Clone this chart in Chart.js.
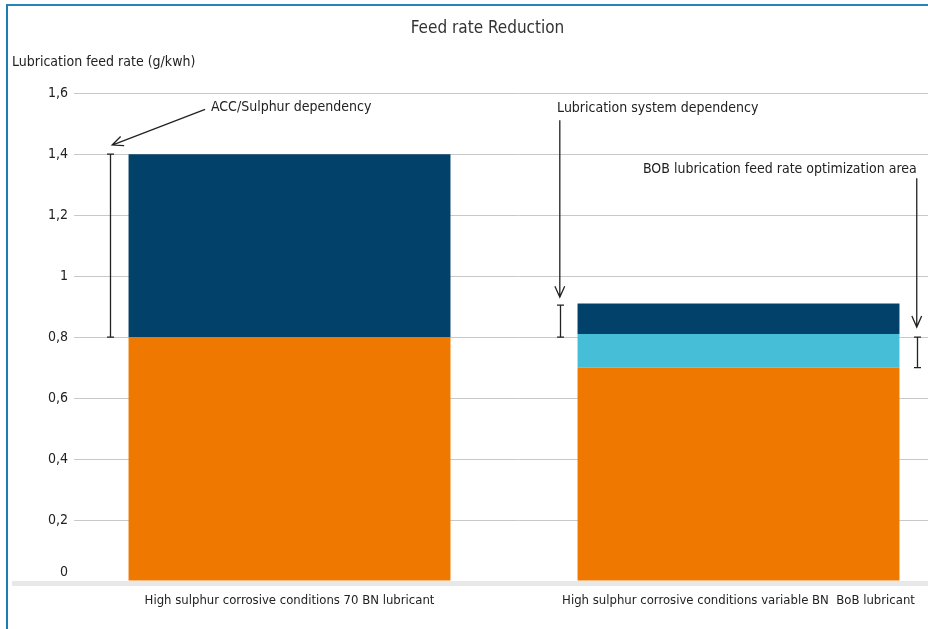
<!DOCTYPE html>
<html>
<head>
<meta charset="utf-8">
<script src="https://cdn.jsdelivr.net/npm/chart.js@4"></script>
<style>
  html, body { margin: 0; padding: 0; background: #fff; overflow: hidden; }
  #wrap { position: relative; width: 982px; height: 629px; }
  #frame { position: absolute; left: 6px; top: 4px; right: -10px; bottom: -10px;
           border-left: 2px solid #1b7db3; border-top: 2px solid #2584b8; pointer-events: none; }
</style>
</head>
<body>
<div id="wrap">
  <canvas id="c"></canvas>
  <div id="frame"></div>
</div>
<script>
// Categories and stacked segment values (g/kWh)
const categories = [
  'High sulphur corrosive conditions 70 BN lubricant',
  'High sulphur corrosive conditions variable BN  BoB lubricant'
];
const baseFeed = [0.8, 0.7];          // orange
const bobOptimisation = [0, 0.11];    // light blue
const systemDependency = [0.6, 0.1];  // dark blue

const yTicks = [0, 0.2, 0.4, 0.6, 0.8, 1, 1.2, 1.4, 1.6];

// Range brackets: [category position, low, high]
const brackets = [
  [-0.40, 0.8, 1.4],
  [0.602, 0.8, 0.905],
  [1.397, 0.7, 0.8]
];

// Callouts: text, text anchor (x,y), alignment, arrow tail and head (x,y)
const callouts = [
  { text: 'ACC/Sulphur dependency', at: [-0.175, 1.554], align: 'left',
    from: [-0.188, 1.547], to: [-0.395, 1.43] },
  { text: 'Lubrication system dependency', at: [0.596, 1.551], align: 'left',
    from: [0.602, 1.511], to: [0.602, 0.931] },
  { text: 'BOB lubrication feed rate optimization area', at: [1.397, 1.351], align: 'right',
    from: [1.397, 1.321], to: [1.397, 0.833] }
];

const FONT = '"Liberation Sans Narrow", "DejaVu Sans Condensed", "Roboto Condensed", sans-serif';
const INK = '#222';

const toSeries = arr => arr.map((v, i) => ({ x: i, y: v }));

const annotate = {
  id: 'annotate',
  beforeDraw(chart) {
    // lift the zero label clear of the base band
    const items = chart.scales.y.getLabelItems();
    items.forEach(it => {
      if (it.label === '0' && !it._lifted) {
        it.options.translation[1] -= 9;
        it._lifted = true;
      }
    });
  },
  beforeDatasetsDraw(chart) {
    const { ctx, chartArea } = chart;
    // light grey base band under the bars
    ctx.save();
    ctx.fillStyle = '#e8e8e8';
    ctx.fillRect(12, chartArea.bottom, chart.width, 5);
    ctx.restore();
  },
  afterDatasetsDraw(chart) {
    const { ctx } = chart;
    const xs = chart.scales.x, ys = chart.scales.y;
    ctx.save();
    ctx.strokeStyle = INK;
    ctx.fillStyle = INK;
    ctx.lineWidth = 1.3;
    brackets.forEach(([x, lo, hi]) => {
      const px = Math.round(xs.getPixelForValue(x)) + 0.5;
      const y1 = ys.getPixelForValue(lo), y2 = ys.getPixelForValue(hi);
      ctx.beginPath();
      ctx.moveTo(px, y1); ctx.lineTo(px, y2);
      ctx.moveTo(px - 3.5, y1); ctx.lineTo(px + 3.5, y1);
      ctx.moveTo(px - 3.5, y2); ctx.lineTo(px + 3.5, y2);
      ctx.stroke();
    });
    ctx.font = '14px ' + FONT;
    ctx.textBaseline = 'middle';
    callouts.forEach(c => {
      ctx.textAlign = c.align;
      ctx.fillText(c.text, xs.getPixelForValue(c.at[0]), ys.getPixelForValue(c.at[1]));
      const x1 = xs.getPixelForValue(c.from[0]), y1 = ys.getPixelForValue(c.from[1]);
      const x2 = xs.getPixelForValue(c.to[0]), y2 = ys.getPixelForValue(c.to[1]);
      ctx.beginPath();
      ctx.moveTo(x1, y1); ctx.lineTo(x2, y2);
      const ang = Math.atan2(y2 - y1, x2 - x1), len = 12, spread = 0.42;
      ctx.moveTo(x2 - len * Math.cos(ang - spread), y2 - len * Math.sin(ang - spread));
      ctx.lineTo(x2, y2);
      ctx.lineTo(x2 - len * Math.cos(ang + spread), y2 - len * Math.sin(ang + spread));
      ctx.stroke();
    });
    ctx.restore();
  }
};

new Chart(document.getElementById('c'), {
  type: 'bar',
  data: {
    datasets: [
      { label: 'Base feed rate', data: toSeries(baseFeed), backgroundColor: '#ef7900' },
      { label: 'BoB optimization', data: toSeries(bobOptimisation), backgroundColor: '#47bed8' },
      { label: 'System dependency', data: toSeries(systemDependency), backgroundColor: '#02426a' }
    ]
  },
  options: {
    responsive: true,
    maintainAspectRatio: false,
    animation: false,
    barPercentage: 0.717,
    categoryPercentage: 1,
    layout: { padding: { left: 12, right: 19, top: 0, bottom: 0 } },
    plugins: {
      legend: { display: false },
      tooltip: { enabled: false },
      title: {
        display: true, text: 'Feed rate Reduction', color: '#333',
        font: { family: FONT, size: 17, weight: 'normal' },
        padding: { top: 18, bottom: 12 }
      },
      subtitle: {
        display: true, text: 'Lubrication feed rate (g/kwh)', align: 'start', color: INK,
        font: { family: FONT, size: 14, weight: 'normal' },
        padding: { top: 4, bottom: 22 }
      }
    },
    scales: {
      x: {
        type: 'linear', stacked: true, offset: false,
        min: -0.48, max: 1.5,
        grid: { display: false, drawTicks: false },
        border: { display: false },
        afterBuildTicks: s => { s.ticks = categories.map((_, i) => ({ value: i })); },
        afterFit: s => { s.height = 48; },
        ticks: {
          autoSkip: false, maxRotation: 0, padding: 12, color: INK,
          font: { family: FONT, size: 13 },
          callback: v => categories[v]
        }
      },
      y: {
        stacked: true, min: 0, max: 1.6,
        grid: { color: '#c8c8c8', drawTicks: false },
        border: { display: false },
        afterBuildTicks: s => { s.ticks = yTicks.map(v => ({ value: v })); },
        afterFit: s => { s.width = 62; },
        ticks: {
          padding: 6, color: INK,
          font: { family: FONT, size: 14 },
          callback: v => String(Math.round(v * 10) / 10).replace('.', ',')
        }
      }
    }
  },
  plugins: [annotate]
});
</script>
</body>
</html>
